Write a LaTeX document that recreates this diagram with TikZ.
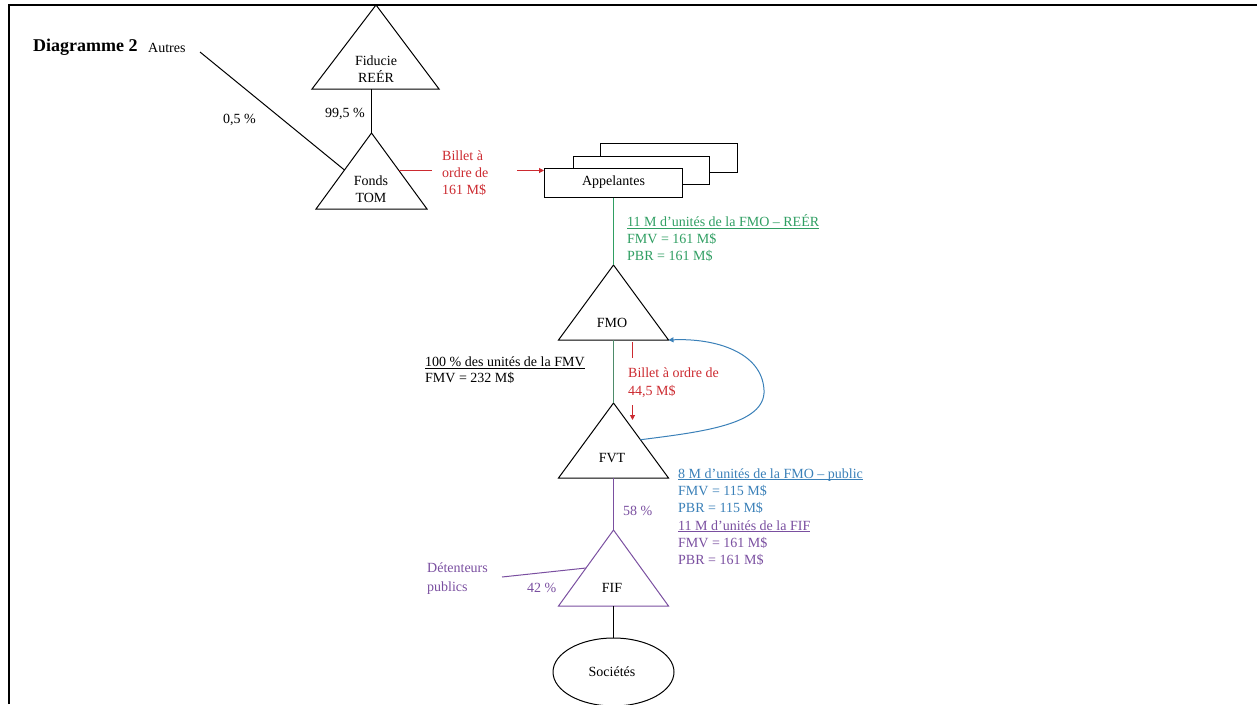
\documentclass[tikz,border=0pt]{standalone}
\usepackage{fontspec}
\setmainfont{Liberation Serif}
\usetikzlibrary{arrows.meta,shapes.geometric,calc}
\definecolor{cgreen}{HTML}{2F9E62}
\definecolor{cred}{HTML}{CC2A30}
\definecolor{cblue}{HTML}{3A80B8}
\definecolor{cpurple}{HTML}{7A4FA0}
\newcommand{\ulx}[1]{\underline{\smash{#1}}}

\begin{document}
\begin{tikzpicture}[x=1pt,y=-1pt,
  font=\fontsize{14}{17}\selectfont,
  ln/.style={line width=1pt},
  tri/.style={ln, line join=miter},
  lbl/.style={inner sep=0pt, align=center, anchor=base},
  note/.style={inner sep=0pt, align=left, anchor=base west},
  tip/.style={-{Triangle[length=5pt,width=5pt]}},
  boxx/.style={draw, ln, fill=white, minimum width=138pt, minimum height=29pt, inner sep=0pt}]

\useasboundingbox (0,0) rectangle (1257,704);

% page frame
\draw[line width=1.6pt] (9,704) -- (9,5) -- (1257,5);

% title
\node[note, font=\fontsize{18}{20}\selectfont\bfseries] (title) at (33,51) {Diagramme 2};
\node[note] (autres) at (148,52) {Autres};

% triangles: apex, left and right base corners
\coordinate (fidT) at (376,5);     \coordinate (fidL) at (312,89);  \coordinate (fidR) at (439,89);
\coordinate (tomT) at (371.5,133); \coordinate (tomL) at (316,209); \coordinate (tomR) at (427,209);
\coordinate (fmoT) at (613.5,265); \coordinate (fmoL) at (558.5,340); \coordinate (fmoR) at (668.5,340);
\coordinate (fvtT) at (613.5,403); \coordinate (fvtL) at (558.5,478); \coordinate (fvtR) at (668.5,478);
\coordinate (fifT) at (613.5,530); \coordinate (fifL) at (558.5,606); \coordinate (fifR) at (668.5,606);

\draw[tri] (fidT) -- (fidL) -- (fidR) -- cycle;
\draw[tri] (tomT) -- (tomL) -- (tomR) -- cycle;
\draw[tri] (fmoT) -- (fmoL) -- (fmoR) -- cycle;
\draw[tri] (fvtT) -- (fvtL) -- (fvtR) -- cycle;
\draw[tri, cpurple] (fifT) -- (fifL) -- (fifR) -- cycle;

\coordinate (fidB) at (fidL -| tomT);
\coordinate (fmoB) at ($(fmoL)!0.5!(fmoR)$);
\coordinate (fvtB) at ($(fvtL)!0.5!(fvtR)$);
\coordinate (fifB) at ($(fifL)!0.5!(fifR)$);
\node[lbl] (fid) at (376,82.5) {Fiducie\\REÉR};
\node[lbl] (tom) at (371,202.5) {Fonds\\TOM};
\node[lbl] (fmo) at (612,327.5) {FMO};
\node[lbl] (fvt) at (612,462.5) {FVT};
\node[lbl] (fif) at (612,592.5) {FIF};

% Fiducie -> Fonds TOM
\draw[ln] (fidB) -- (tomT);
\node[note] (p995) at (325,117.5) {99,5 \%};
% Autres -> Fonds TOM
\coordinate (autresEnd) at (200,52);
\coordinate (tomLe) at ($(tomT)!0.487!(tomL)$);
\draw[ln] (autresEnd) -- (tomLe);
\node[note] (p05) at (223,123.5) {0,5 \%};

% appellants (stacked boxes)
\node[boxx, minimum width=137pt, minimum height=29pt] (app3) at (668.5,157.5) {};
\node[boxx, minimum width=136pt, minimum height=28pt] (app2) at (641,170) {};
\node[boxx] (app) at (613.5,182.5) {Appelantes};

% promissory note from Fonds TOM
\coordinate (tomRe) at ($(tomT)!0.487!(tomR)$);
\coordinate (billetEnd) at (432,170.5);
\draw[ln, cred] (tomRe) -- (tomRe -| billetEnd);
\node[note, cred] (billet1) at (442,194.5) {Billet à\\ordre de\\161 M\$};
\coordinate (billetArr) at (517,170.5);
\draw[ln, cred, tip] (billetArr) -- (billetArr -| app.west);

% Appelantes -> FMO
\draw[ln, cgreen] (app.south) -- (fmoT);
\node[note, cgreen] (unitsG) at (627,260.5) {\ulx{11 M d’unités de la FMO – REÉR}\\FMV = 161 M\$\\PBR = 161 M\$};

% FMO -> FVT
\draw[ln, cgreen!70!black!80] (fmoB) -- (fvtT);
\node[note, font=\fontsize{14}{16}\selectfont] (unitsK) at (425,382.5) {\ulx{100 \% des unités de la FMV}\\FMV = 232 M\$};

% promissory note FVT -> FMO
\coordinate (rn1) at (632.5,342);
\coordinate (rn2) at (632.5,358);
\draw[ln, cred] (rn1) -- (rn2);
\node[note, cred, font=\fontsize{14}{18}\selectfont] (billet2) at (628,395.5) {Billet à ordre de\\44,5 M\$};
\coordinate (rn3) at (632.5,405);
\coordinate (rn4) at (632.5,420);
\draw[ln, cred, tip] (rn3) -- (rn4);

% FMO units returned to FVT
\coordinate (fvtRe) at ($(fvtT)!0.49!(fvtR)$);
\draw[ln, cblue, tip] (fvtRe) .. controls (700,432) and (766,425) .. (764,390)
  .. controls (762,352) and (715,338) .. (fmoR);

% FVT -> FIF
\draw[ln, cpurple] (fvtB) -- (fifT);
\node[note, cpurple] (p58) at (623,515.5) {58 \%};
\node[note, cblue] (unitsB) at (678,512) {\ulx{8 M d’unités de la FMO – public}\\FMV = 115 M\$\\PBR = 115 M\$};
\node[note, cpurple] (unitsP) at (678,564) {\ulx{11 M d’unités de la FIF}\\FMV = 161 M\$\\PBR = 161 M\$};

% public holders
\coordinate (pubEnd) at (502,577);
\coordinate (fifLe) at ($(fifT)!0.5!(fifL)$);
\draw[ln, cpurple] (pubEnd) -- (fifLe);
\node[note, cpurple, font=\fontsize{14}{19}\selectfont] (pub) at (427,591.5) {Détenteurs\\publics};
\node[note, cpurple] (p42) at (527,592.5) {42 \%};

% companies
\node[draw, ln, ellipse, minimum width=121pt, minimum height=68pt, inner sep=0pt] (soc) at (613.5,672) {};
\node[lbl] (soct) at (612,676.5) {Sociétés};
\draw[ln] (fifB) -- (soc.north);

\end{tikzpicture}
\end{document}
